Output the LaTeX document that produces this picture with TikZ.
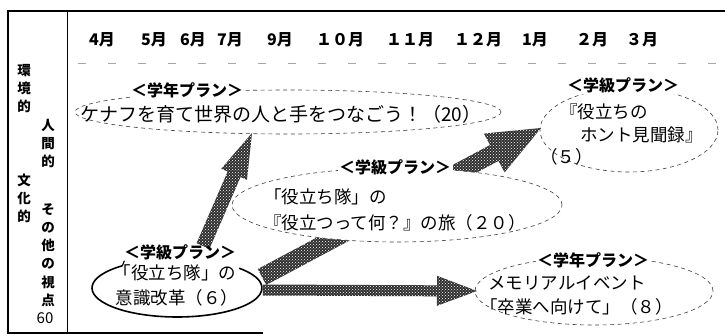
\documentclass[tikz,border=0pt]{standalone}
\usepackage{fontspec}
\setmainfont{Noto Sans CJK JP}
\usetikzlibrary{calc,patterns,shapes.geometric}
\tikzset{
  fatfill/.style={fill=black!82, postaction={pattern=crosshatch dots, pattern color=white}},
  dashell/.style={ellipse, draw=black!75, dash pattern=on 4pt off 3.5pt, line width=0.6pt, fill=white, inner sep=0pt},
  txt/.style={inner sep=0pt, font=\fontsize{17.5}{21}\selectfont},
  bigtxt/.style={inner sep=0pt, font=\fontsize{19}{22}\selectfont},
  lbl/.style={inner sep=1.5pt, fill=white, font=\fontsize{16}{19}\selectfont\bfseries},
  mon/.style={inner sep=0pt, font=\fontsize{16}{19}\selectfont\bfseries},
  side/.style={inner sep=0pt, align=center, font=\fontsize{13.5}{18.2}\selectfont\bfseries},
}
% #1 id, #2 start, #3 tip, #4 half shaft width, #5 half head width, #6 head length
\newcommand\fatarr[6]{%
  \coordinate (#1h) at ($(#3)!#6!(#2)$);
  \fill[fatfill] ($(#2)!#4!90:(#3)$) -- ($(#1h)!#4!90:(#3)$) -- ($(#1h)!#5!90:(#3)$)
    -- (#3) -- ($(#1h)!#5!-90:(#3)$) -- ($(#1h)!#4!-90:(#3)$) -- ($(#2)!#4!-90:(#3)$) -- cycle;
}
\begin{document}
\begin{tikzpicture}[x=1pt,y=-1pt]
\useasboundingbox (0,0) rectangle (725,336);
\fill[white] (0,0) rectangle (725,336);
% frame
\draw[line width=2.5pt] (7,11) -- (725,11);
\draw[line width=2pt] (8,10) -- (8,334);
\draw[line width=1.5pt] (8,333) -- (263,333);
\draw[line width=0.9pt] (67,11) -- (67,333);
\draw[black!35, line width=0.6pt, dash pattern=on 8pt off 22pt] (78,63) -- (722,63);
% months
\node[mon] (m4) at (102,40) {4月};
\node[mon] (m5) at (154,40) {5月};
\node[mon] (m6) at (193,40) {6月};
\node[mon] (m7) at (230,40) {7月};
\node[mon] (m9) at (280,40) {9月};
\node[mon] (m10) at (340,40) {１０月};
\node[mon] (m11) at (410,40) {１１月};
\node[mon] (m12) at (478,40) {１２月};
\node[mon] (m1) at (535,40) {1月};
\node[mon] (m2) at (592,40) {２月};
\node[mon] (m3) at (642,40) {３月};
% side column
\node[side] (s1) at (24,88.5) {環\\境\\的};
\node[side] (s2) at (48,143.5) {人\\間\\的};
\node[side] (s3) at (24,198.5) {文\\化\\的};
\node[side] (s4) at (48,255) {そ\\の\\他\\の\\視\\点};
\node[inner sep=0pt, font=\fontsize{15}{17}\selectfont] (s5) at (45,318) {60};
% ellipses
\node[dashell, minimum width=426pt, minimum height=44pt] (e1) at (288,112) {};
\node[dashell, minimum width=178pt, minimum height=84pt] (e2) at (629,130) {};
\node[dashell, minimum width=238pt, minimum height=68pt] (e5) at (594,291) {};
\coordinate (e4) at (177,288);
% arrows
\coordinate (aAs) at (203,246);
\coordinate (aAt) at (252,133);
\coordinate (aBs) at (262,277);
\coordinate (aBt) at (541,128);
\coordinate (aCs) at (263,290);
\coordinate (aCt) at (477,291);
\fatarr{aA}{aAs}{aAt}{7pt}{14pt}{45pt}
\fatarr{aB}{aBs}{aBt}{9pt}{22pt}{53pt}
\fatarr{aC}{aCs}{aCt}{5.5pt}{15pt}{40pt}
\node[dashell, minimum width=330pt, minimum height=74pt] (e3) at (397,205) {};
\draw[line width=1.6pt] ([shift={(130:85pt and 29pt)}]e4) arc[start angle=130, end angle=403, x radius=85pt, y radius=29pt];
\draw[line width=1.2pt] ([shift={(130:85pt and 29pt)}]e4) -- ++(2,-5);
% texts
\node[lbl] (l1) at (187,90) {＜学年プラン＞};
\node[bigtxt, anchor=west] (t1) at (80,114) {ケナフを育て世界の人と手をつなごう！（20）};
\node[lbl] (l2) at (623,85) {＜学級プラン＞};
\node[txt, anchor=west] (t2a) at (560,112) {『役立ちの};
\node[txt, anchor=west] (t2b) at (580,135) {ホント見聞録』};
\node[txt, anchor=west] (t2c) at (540,157) {（５）};
\node[lbl] (l3) at (395,167) {＜学級プラン＞};
\node[txt, anchor=west] (t3a) at (264,197) {「役立ち隊」の};
\node[txt, anchor=west] (t3b) at (264,223) {『役立つって何？』の旅（２０）};
\node[lbl, fill=none] (l4) at (180,252) {＜学級プラン＞};
\node[txt] (t4a) at (175,273) {「役立ち隊」の};
\node[txt] (t4b) at (177,298) {意識改革（６）};
\node[lbl] (l5) at (593,260) {＜学年プラン＞};
\node[txt, anchor=west] (t5a) at (488,283) {メモリアルイベント};
\node[txt, anchor=west] (t5b) at (480,307) {「卒業へ向けて」（８）};
\end{tikzpicture}
\end{document}
